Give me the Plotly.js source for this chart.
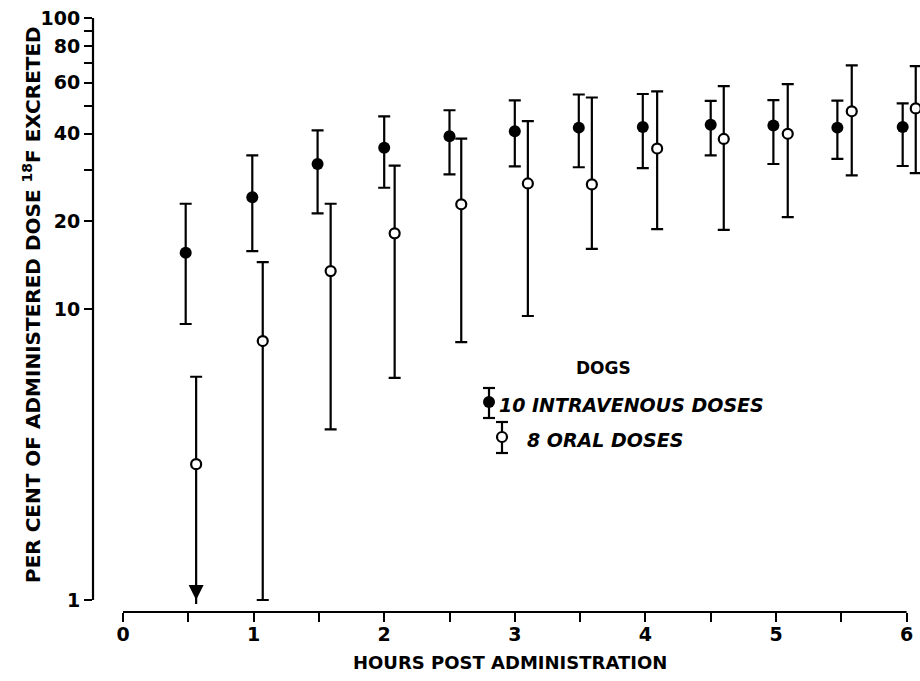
<!DOCTYPE html>
<html>
<head>
<meta charset="utf-8">
<script src="https://cdn.plot.ly/plotly-3.0.1.min.js"></script>
<style>html,body{margin:0;padding:0;background:#fff;}#chart{width:920px;height:681px;}</style>
</head>
<body>
<div id="chart"></div>
<script>
// ---- data ----
const ivHours   = [0.48, 0.99, 1.49, 2.00, 2.50, 3.00, 3.49, 3.98, 4.50, 4.98, 5.47, 5.97];
const ivMean    = [15.6, 24.2, 31.5, 35.8, 39.2, 40.8, 42.0, 42.2, 43.0, 42.7, 42.0, 42.2];
const ivUpper   = [23.0, 33.7, 41.1, 45.9, 48.2, 52.1, 54.6, 54.8, 51.9, 52.2, 52.0, 50.9];
const ivLower   = [8.88, 15.8, 21.3, 26.1, 29.0, 30.9, 30.7, 30.5, 33.7, 31.5, 32.8, 31.0];

const oralHours = [0.56, 1.07, 1.59, 2.08, 2.59, 3.10, 3.59, 4.09, 4.60, 5.09, 5.58, 6.07];
const oralMean  = [2.93, 7.76, 13.5, 18.2, 22.9, 27.0, 26.8, 35.6, 38.4, 40.0, 47.8, 48.9];
const oralUpper = [5.85, 14.5, 23.0, 31.1, 38.5, 44.2, 53.3, 56.0, 58.3, 59.3, 68.7, 68.3];
const oralLower = [0,    1.0,  3.86, 5.80, 7.69, 9.46, 16.1, 18.8, 18.7, 20.7, 28.8, 29.3]; // 0 = below scale (arrow)
const oralArrowHours = [0.56];
const oralArrowTip   = [1.0];

const xTickVals  = [0, 1, 2, 3, 4, 5, 6];
const xTickText  = ['0', '1', '2', '3', '4', '5', '6'];
const xMinorVals = [0.5, 1.5, 2.5, 3.5, 4.5, 5.5];
const yTickVals  = [1, 10, 20, 40, 60, 80, 100];
const yTickText  = ['1', '10', '20', '40', '60', '80', '100'];
const yMinorVals = [30, 50, 70, 90];

const yTitle = 'PER CENT OF ADMINISTERED DOSE <sup>18</sup>F EXCRETED';
const xTitle = 'HOURS POST ADMINISTRATION';
const legendTitle = 'DOGS';
const legendIV = '10 INTRAVENOUS DOSES';
const legendOral = '8 ORAL DOSES';

// ---- layout helpers ----
const W = 920, H = 681, ML = 93, MR = 0, MT = 10, MB = 69;
const PW = W - ML - MR, PH = H - MT - MB;
const px = x => (x - ML) / PW;
const py = y => (H - MB - y) / PH;
const FONT = 'DejaVu Sans, sans-serif';

const up = (u, m) => u.map((v, i) => v - m[i]);
const dn = (l, m) => l.map((v, i) => m[i] - v);

const traces = [
  {
    x: ivHours, y: ivMean, type: 'scatter', mode: 'markers', name: legendIV,
    marker: {color: '#000', size: 12, line: {width: 0}},
    error_y: {type: 'data', symmetric: false, array: up(ivUpper, ivMean), arrayminus: dn(ivLower, ivMean),
              color: '#000', thickness: 2.2, width: 6}
  },
  {
    x: oralHours, y: oralMean, type: 'scatter', mode: 'markers', name: legendOral,
    marker: {color: '#fff', size: 10, line: {color: '#000', width: 2.2}},
    error_y: {type: 'data', symmetric: false, array: up(oralUpper, oralMean), arrayminus: dn(oralLower, oralMean),
              color: '#000', thickness: 2.2, width: 6}
  },
  {
    x: oralArrowHours, y: oralArrowTip, type: 'scatter', mode: 'markers', hoverinfo: 'skip',
    marker: {symbol: 'arrow-down', color: '#000', size: 15, line: {width: 0}}
  }
];

const black = {color: '#000', width: 2.2};
const shapes = [
  // axis lines
  {type: 'line', xref: 'paper', yref: 'paper', x0: 0, x1: 0, y0: py(600), y1: py(18), line: black},
  {type: 'line', xref: 'x', yref: 'paper', x0: 0, x1: 6, y0: 0, y1: 0, line: black},
  // legend key: IV
  {type: 'line', xref: 'paper', yref: 'paper', x0: px(489), x1: px(489), y0: py(388), y1: py(418), line: black},
  {type: 'line', xref: 'paper', yref: 'paper', x0: px(483), x1: px(495), y0: py(388), y1: py(388), line: black},
  {type: 'line', xref: 'paper', yref: 'paper', x0: px(483), x1: px(495), y0: py(418), y1: py(418), line: black},
  {type: 'circle', xref: 'paper', yref: 'paper', x0: px(483), x1: px(495), y0: py(396), y1: py(408),
   fillcolor: '#000', line: {width: 0}},
  // legend key: oral
  {type: 'line', xref: 'paper', yref: 'paper', x0: px(502), x1: px(502), y0: py(422), y1: py(453), line: black},
  {type: 'line', xref: 'paper', yref: 'paper', x0: px(496), x1: px(508), y0: py(422), y1: py(422), line: black},
  {type: 'line', xref: 'paper', yref: 'paper', x0: px(496), x1: px(508), y0: py(453), y1: py(453), line: black},
  {type: 'circle', xref: 'paper', yref: 'paper', x0: px(497), x1: px(507), y0: py(432), y1: py(442),
   fillcolor: '#fff', line: {color: '#000', width: 2.2}}
];

const annotations = [
  {text: yTitle, xref: 'paper', yref: 'paper', x: px(32), y: py(305), textangle: -90, showarrow: false,
   xanchor: 'center', yanchor: 'middle', font: {family: FONT, size: 20, color: '#000', weight: 'bold'}},
  {text: xTitle, xref: 'paper', yref: 'paper', x: px(510), y: py(662), showarrow: false,
   xanchor: 'center', yanchor: 'middle', font: {family: FONT, size: 18, color: '#000', weight: 'bold'}},
  {text: legendTitle, xref: 'paper', yref: 'paper', x: px(603), y: py(368), showarrow: false,
   xanchor: 'center', yanchor: 'middle', font: {family: FONT, size: 17, color: '#000', weight: 'bold'}},
  {text: '<i>' + legendIV + '</i>', xref: 'paper', yref: 'paper', x: px(497), y: py(405), showarrow: false,
   xanchor: 'left', yanchor: 'middle', font: {family: FONT, size: 19, color: '#000', weight: 'bold'}},
  {text: '<i>' + legendOral + '</i>', xref: 'paper', yref: 'paper', x: px(525), y: py(440), showarrow: false,
   xanchor: 'left', yanchor: 'middle', font: {family: FONT, size: 19, color: '#000', weight: 'bold'}}
];

const tickFont = {family: FONT, size: 19, color: '#000', weight: 'bold'};
const layout = {
  width: W, height: H,
  margin: {l: ML, r: MR, t: MT, b: MB, pad: 0},
  paper_bgcolor: '#fff', plot_bgcolor: '#fff',
  showlegend: false,
  xaxis: {
    range: [-30 / 130.6, (W - MR - 123) / 130.6], anchor: 'free', position: 0,
    showline: false, zeroline: false, showgrid: false,
    tickmode: 'array', tickvals: xTickVals, ticktext: xTickText,
    ticks: 'outside', ticklen: 9, tickwidth: 2, tickcolor: '#000', ticklabelstandoff: -4,
    minor: {tickmode: 'array', tickvals: xMinorVals, ticks: 'outside', ticklen: 9, tickwidth: 2, tickcolor: '#000', showgrid: false},
    tickfont: tickFont, automargin: false
  },
  yaxis: {
    type: 'log', range: [-4 / 291, 2 + 8 / 291], domain: [8 / PH, 1],
    showline: false, zeroline: false, showgrid: false,
    tickmode: 'array', tickvals: yTickVals, ticktext: yTickText,
    ticks: 'outside', ticklen: 8, tickwidth: 2, tickcolor: '#000',
    minor: {tickmode: 'array', tickvals: yMinorVals, ticks: 'outside', ticklen: 8, tickwidth: 2, tickcolor: '#000', showgrid: false},
    tickfont: tickFont, automargin: false
  },
  shapes: shapes,
  annotations: annotations
};

Plotly.newPlot('chart', traces, layout, {displayModeBar: false, staticPlot: true});
</script>
</body>
</html>
